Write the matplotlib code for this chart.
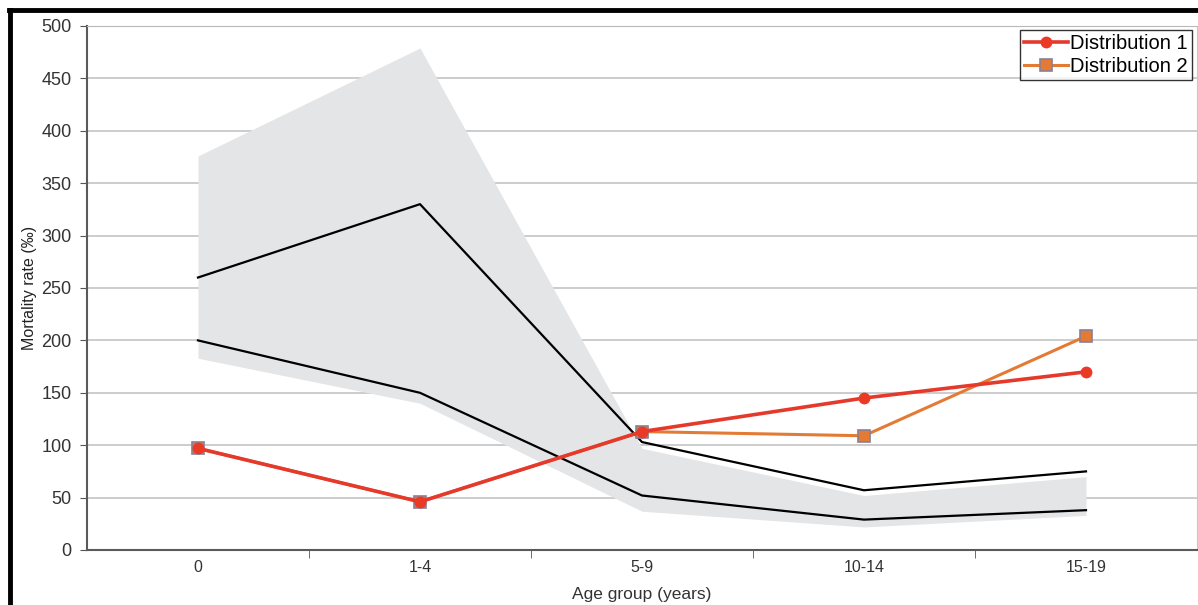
import numpy as np
import matplotlib
matplotlib.use("Agg")
import matplotlib.pyplot as plt
from matplotlib.lines import Line2D

plt.rcParams['font.family'] = ['Liberation Sans', 'DejaVu Sans']

# data
age_groups = ['0', '1-4', '5-9', '10-14', '15-19']
band_upper = [376, 479, 97, 52, 70]
band_lower = [183, 140, 37, 22, 33]
line_upper = [260, 330, 103, 57, 75]
line_lower = [200, 150, 52, 29, 38]
dist1 = [97, 46, 113, 145, 170]
dist2 = [97, 46, 113, 109, 204]

x = np.arange(len(age_groups))

fig = plt.figure(figsize=(11.98, 6.05), dpi=100)
ax = fig.add_axes([87 / 1198, 1 - 550 / 605, 1110 / 1198, 524 / 605])

# grey band + black bounds
ax.fill_between(x, band_lower, band_upper, color='#e4e5e7', lw=0, zorder=1)
ax.plot(x, line_upper, color='black', lw=1.6, zorder=3)
ax.plot(x, line_lower, color='black', lw=1.6, zorder=3)

# distributions
ax.plot(x, dist2, color='#e37b35', lw=2.2, marker='s', ms=9,
        mfc='#e37b35', mec='#8a7f98', mew=1.2, label='Distribution 2', zorder=4)
ax.plot(x, dist1, color='#e5392b', lw=2.6, marker='o', ms=7.5,
        mfc='#ea3a25', mec='#ea3a25', label='Distribution 1', zorder=5)

ax.set_xlim(-0.5, len(age_groups) - 0.5)
ax.set_ylim(0, 500)
ax.set_yticks(np.arange(0, 501, 50))
ax.set_xticks(x)
ax.set_xticklabels(age_groups)
ax.set_xticks(np.arange(0.5, len(age_groups) - 0.5, 1), minor=True)
ax.tick_params(axis='x', which='major', length=0, pad=7, labelsize=11.5, labelcolor='#333333')
ax.tick_params(axis='x', which='minor', length=6, color='#555555', direction='out')
ax.tick_params(axis='y', length=5, color='#555555', labelsize=13, labelcolor='#333333', pad=6)
ax.yaxis.grid(True, color='#c3c3c3', lw=1.2, zorder=0)
ax.set_axisbelow(True)

for side in ['left', 'bottom']:
    ax.spines[side].set_color('#5a5a5a')
    ax.spines[side].set_linewidth(1.5)
ax.spines['top'].set_color('#b8b8b8')
ax.spines['right'].set_color('#c8c8c8')

ax.set_xlabel('Age group (years)', fontsize=12.5, color='#333333', labelpad=9)
ax.set_ylabel('Mortality rate (‰)', fontsize=11.5, color='#222222', labelpad=3)

handles, labels = ax.get_legend_handles_labels()
leg = ax.legend(handles[::-1], labels[::-1], loc='upper right', bbox_to_anchor=(0.9955, 0.993),
                fontsize=14.5, frameon=True, fancybox=False, edgecolor='black',
                borderpad=0.2, handlelength=2.2, handletextpad=0.1, labelspacing=0.2,
                borderaxespad=0)
leg.get_frame().set_linewidth(1.0)

# outer black frame (top and left edges visible)
fig.add_artist(Line2D([10 / 1198, 10 / 1198], [0, 1 - 10 / 605], transform=fig.transFigure,
                      color='black', lw=3.5))
fig.add_artist(Line2D([9 / 1198, 1], [1 - 10 / 605, 1 - 10 / 605], transform=fig.transFigure,
                      color='black', lw=3.5))

fig.savefig('out.png', dpi=100)
